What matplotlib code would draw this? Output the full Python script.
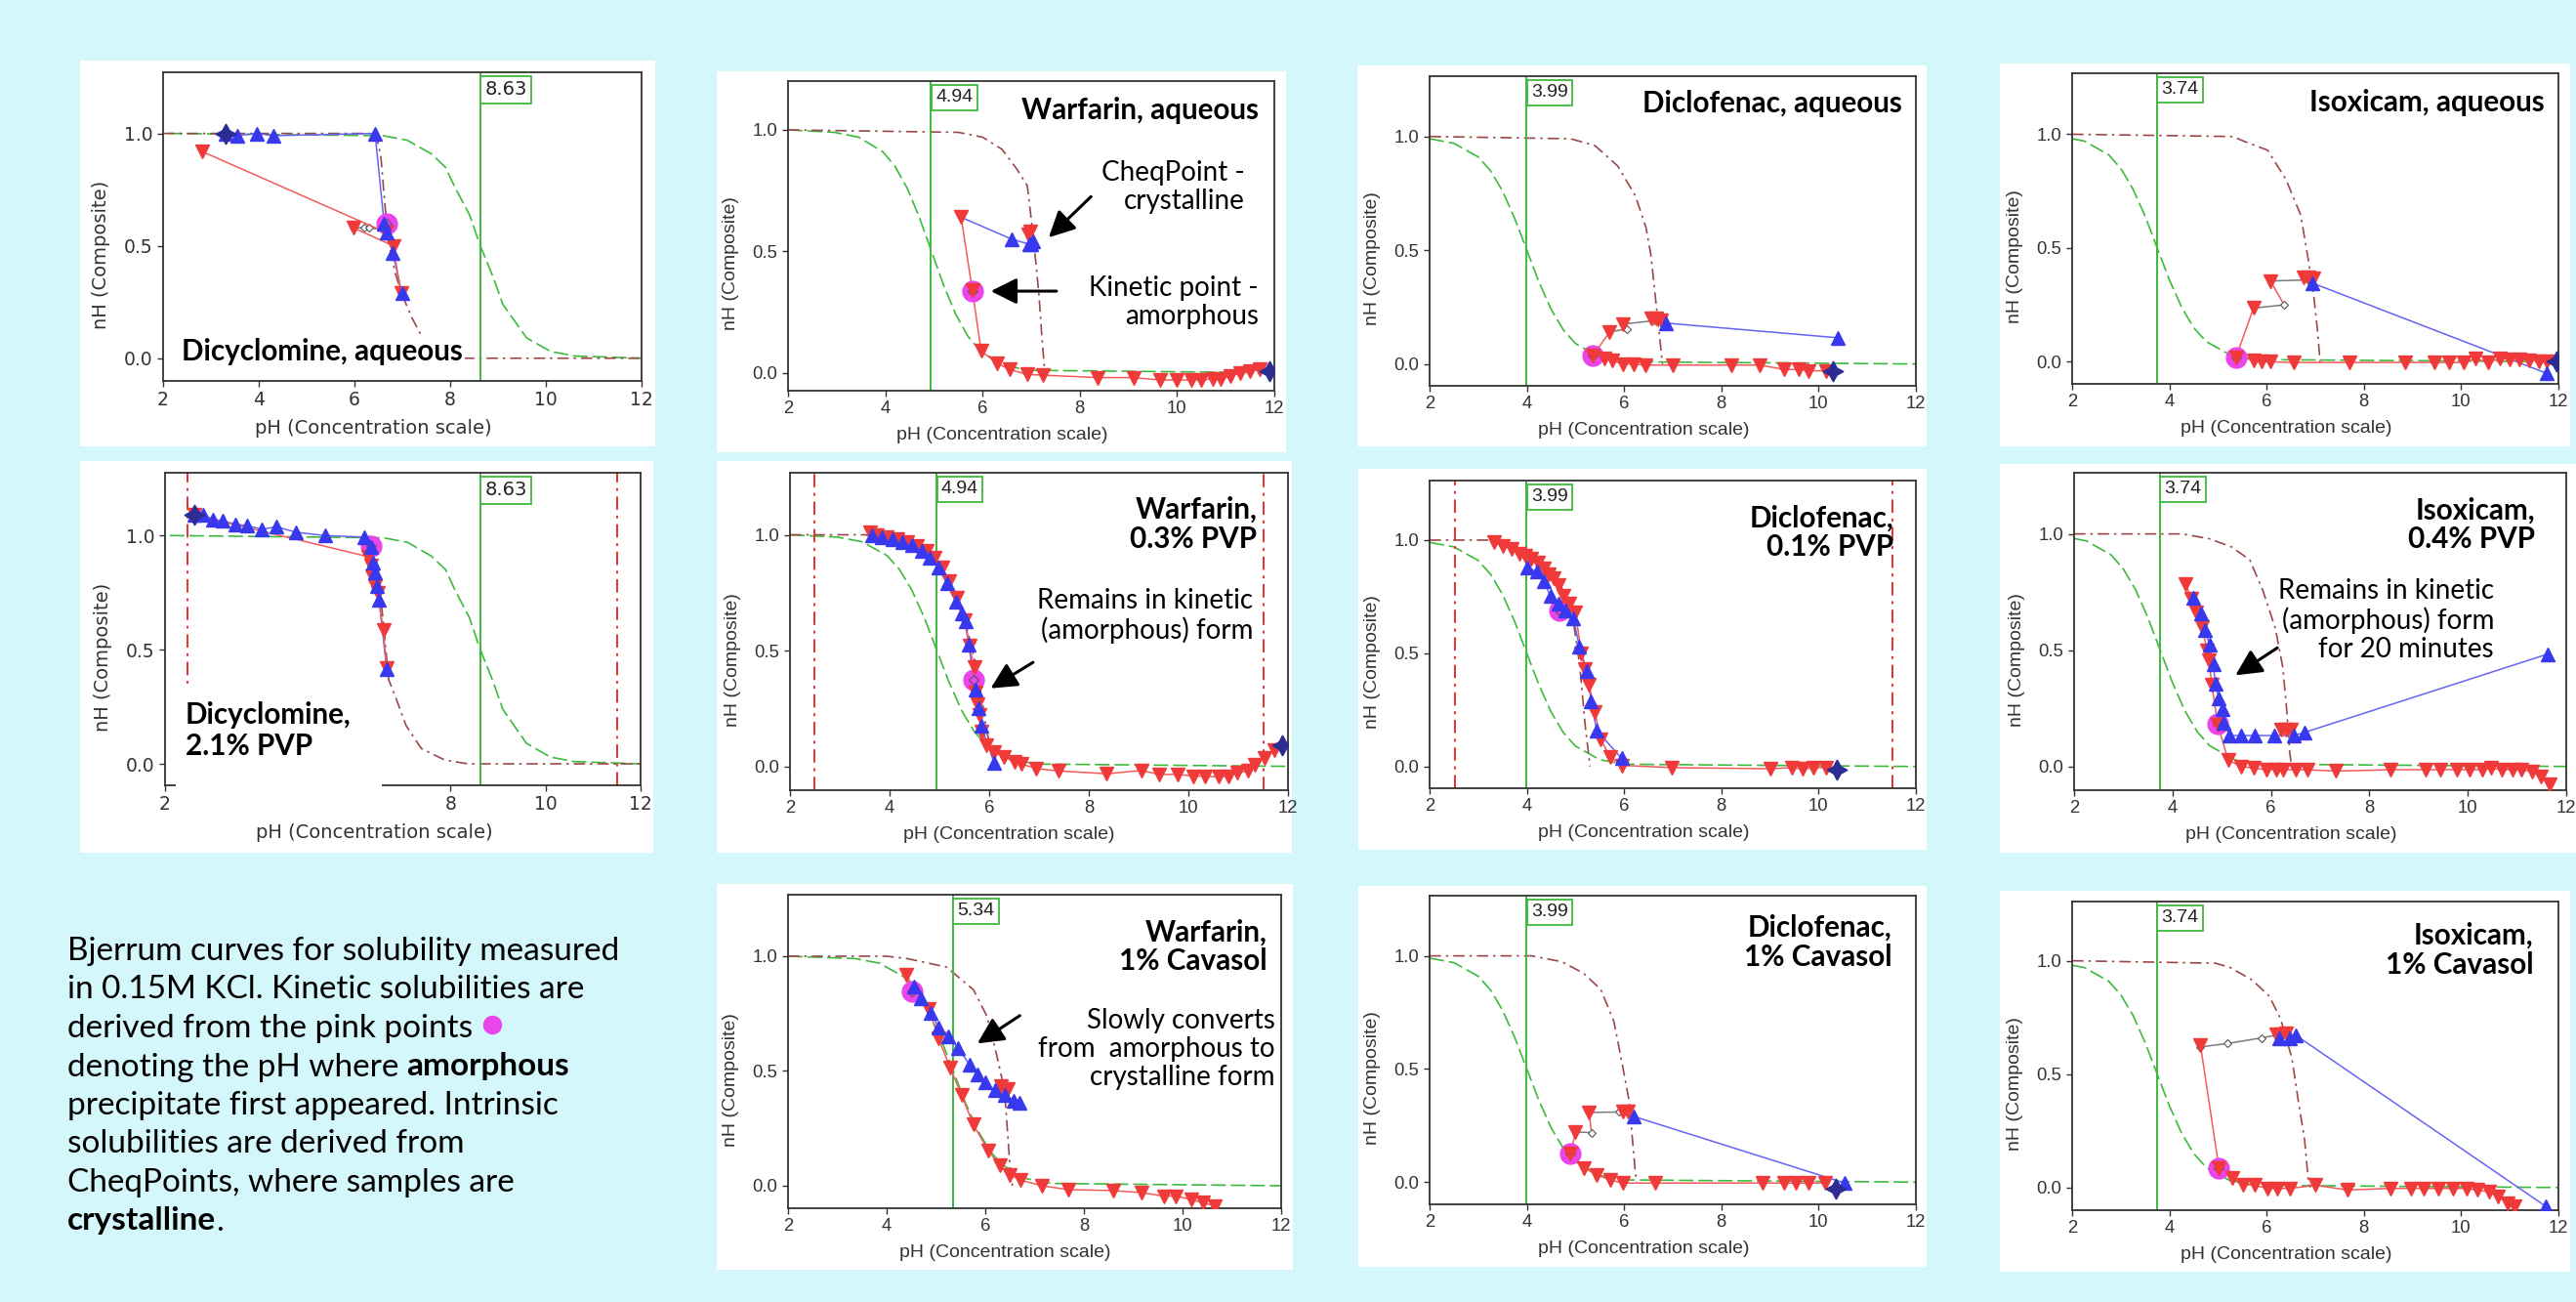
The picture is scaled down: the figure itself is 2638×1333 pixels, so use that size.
import matplotlib
matplotlib.use("Agg")
import matplotlib.pyplot as plt
from matplotlib.patches import Rectangle
from matplotlib.lines import Line2D
from matplotlib.ticker import FormatStrFormatter

# ---------------- values (pH, nH) ----------------
ph_ticks = [2, 4, 6, 8, 10, 12]
nh_ticks = [0.0, 0.5, 1.0]

# model Bjerrum curves (green dashed), one per drug
green_dicy_x = [2.1, 6.6, 7.1, 7.6, 7.9, 8.1, 8.4, 8.63, 8.9, 9.1, 9.4, 9.6, 10.1, 10.6, 12.0]
green_dicy_y = [1.0, 0.99, 0.97, 0.91, 0.85, 0.76, 0.64, 0.5, 0.36, 0.24, 0.15, 0.09, 0.03, 0.01, 0.0]
green_warf_x = [2.0, 2.95, 3.45, 3.95, 4.2, 4.45, 4.7, 4.95, 5.2, 5.45, 5.7, 5.95, 6.45, 6.95, 12.0]
green_warf_y = [1.0, 0.99, 0.97, 0.91, 0.85, 0.76, 0.64, 0.5, 0.36, 0.24, 0.15, 0.09, 0.03, 0.01, 0.0]
green_warfc_x = [2.0, 3.35, 3.85, 4.35, 4.6, 4.85, 5.1, 5.35, 5.6, 5.85, 6.1, 6.35, 6.85, 7.35, 12.0]
green_warfc_y = [1.0, 0.99, 0.97, 0.91, 0.85, 0.76, 0.64, 0.5, 0.36, 0.24, 0.15, 0.09, 0.03, 0.01, 0.0]
green_dicl_x = [2.0, 2.5, 3.0, 3.25, 3.5, 3.75, 4.0, 4.25, 4.5, 4.75, 5.0, 5.5, 6.0, 12.0]
green_dicl_y = [0.99, 0.97, 0.91, 0.85, 0.76, 0.64, 0.5, 0.36, 0.24, 0.15, 0.09, 0.03, 0.01, 0.0]
green_isox_x = [2.0, 2.25, 2.75, 3.0, 3.25, 3.5, 3.75, 4.0, 4.25, 4.5, 4.75, 5.25, 5.75, 12.0]
green_isox_y = [0.98, 0.97, 0.91, 0.85, 0.76, 0.64, 0.5, 0.36, 0.24, 0.15, 0.09, 0.03, 0.01, 0.0]

# P1 Dicyclomine, aqueous
p1_red_x = [2.81, 6.65, 5.98, 6.81, 6.97]
p1_red_y = [0.92, 0.56, 0.58, 0.5, 0.29]
p1_blue_x = [3.3, 3.55, 3.95, 4.3, 6.43, 6.62, 6.67, 6.8, 6.99]
p1_blue_y = [1.0, 0.99, 1.0, 0.99, 1.0, 0.6, 0.56, 0.47, 0.29]
p1_gray_x = [5.98, 6.2, 6.3, 6.65]
p1_gray_y = [0.58, 0.58, 0.58, 0.57]
p1_dk_x = [2.0, 6.45, 6.55, 6.65, 6.75, 6.85, 7.0, 7.2, 7.4, 7.6, 7.8, 8.0, 12.0]
p1_dk_y = [1.0, 1.0, 0.9, 0.65, 0.48, 0.38, 0.28, 0.18, 0.1, 0.05, 0.02, 0.0, 0.0]

# P2 Warfarin, aqueous
p2_red_x = [5.56, 5.79, 5.97, 6.29, 6.56, 6.92, 7.24, 8.37, 9.1, 9.66, 10.0, 10.3, 10.5, 10.73,
            10.9, 11.1, 11.3, 11.5, 11.7]
p2_red_y = [0.64, 0.34, 0.09, 0.04, 0.013, -0.007, -0.01, -0.02, -0.02, -0.03, -0.03, -0.03, -0.03,
            -0.025, -0.025, -0.015, 0.0, 0.005, 0.013]
p2_cheq_x = [6.93, 6.98]
p2_cheq_y = [0.57, 0.58]
p2_blue_x = [5.56, 6.6, 6.95, 7.0, 7.05]
p2_blue_y = [0.64, 0.55, 0.53, 0.53, 0.54]
p2_dk_x = [2.0, 5.5, 6.0, 6.4, 6.7, 6.92, 7.05, 7.16, 7.22, 7.28]
p2_dk_y = [1.0, 0.99, 0.97, 0.92, 0.84, 0.77, 0.55, 0.32, 0.15, 0.0]

# P3 Diclofenac, aqueous
p3_red_x = [5.36, 5.6, 5.75, 5.97, 6.19, 6.44, 7.0, 8.21, 8.79, 9.29, 9.6, 9.79, 10.16]
p3_red_y = [0.037, 0.026, 0.015, 0.0, 0.0, -0.005, -0.005, -0.005, -0.005, -0.024, -0.024, -0.03, -0.03]
p3_zig_x = [5.36, 5.7, 6.06, 5.97, 6.6]
p3_zig_y = [0.037, 0.14, 0.155, 0.175, 0.19]
p3_cheq_x = [6.55, 6.65, 6.75]
p3_cheq_y = [0.2, 0.2, 0.19]
p3_blue_x = [6.85, 10.4]
p3_blue_y = [0.18, 0.115]
p3_dk_x = [2.0, 4.9, 5.4, 5.87, 6.23, 6.45, 6.55, 6.67, 6.75, 6.79]
p3_dk_y = [1.0, 0.99, 0.96, 0.87, 0.74, 0.6, 0.48, 0.24, 0.08, 0.0]

# P4 Isoxicam, aqueous
p4_red_x = [5.37, 5.73, 5.9, 6.08, 6.55, 7.7, 8.85, 9.45, 9.75, 10.05, 10.3, 10.55, 10.8, 11.0,
            11.2, 11.4, 11.6, 11.75]
p4_red_y = [0.02, 0.008, 0.0, 0.0, -0.003, -0.003, -0.003, -0.003, -0.003, -0.003, 0.014, -0.003,
            0.014, 0.011, 0.011, 0.007, 0.003, 0.0]
p4_zig_x = [5.37, 5.73, 6.36, 6.08, 6.85]
p4_zig_y = [0.02, 0.236, 0.25, 0.355, 0.36]
p4_cheq_x = [6.75, 6.85, 6.95]
p4_cheq_y = [0.37, 0.37, 0.365]
p4_blue_x = [6.93, 11.75]
p4_blue_y = [0.347, -0.05]
p4_dk_x = [2.0, 5.3, 5.56, 6.02, 6.4, 6.7, 6.86, 6.97, 7.04, 7.1]
p4_dk_y = [1.0, 0.99, 0.967, 0.93, 0.8, 0.645, 0.444, 0.287, 0.15, 0.0]

# P5 Dicyclomine, 2.1% PVP
p5_red_x = [2.62, 6.28, 6.33, 6.36, 6.42, 6.47, 6.59, 6.66]
p5_red_y = [1.09, 0.907, 0.87, 0.82, 0.78, 0.75, 0.585, 0.42]
p5_blue_x = [2.62, 2.81, 3.01, 3.22, 3.48, 3.73, 4.03, 4.35, 4.76, 5.36, 6.18, 6.33, 6.38, 6.42,
             6.46, 6.5, 6.66]
p5_blue_y = [1.09, 1.09, 1.07, 1.064, 1.05, 1.043, 1.028, 1.038, 1.014, 1.0, 0.993, 0.95, 0.88, 0.84,
             0.78, 0.72, 0.416]
p5_dk_x = [6.3, 6.5, 6.6, 6.7, 6.87, 7.07, 7.39, 7.88, 8.37, 12.0]
p5_dk_y = [1.0, 0.8, 0.6, 0.37, 0.28, 0.167, 0.067, 0.017, 0.0, 0.0]

# P6 Warfarin, 0.3% PVP
p6_red_x = [3.6, 3.75, 3.95, 4.15, 4.35, 4.55, 4.75, 4.9, 5.05, 5.2, 5.35, 5.5, 5.6, 5.7, 5.73, 5.76,
            5.8, 5.85, 5.95, 6.1, 6.3, 6.5, 6.65, 6.95, 7.4, 8.36, 9.05, 9.42, 9.79, 10.1, 10.33,
            10.6, 10.8, 10.99, 11.19, 11.34, 11.53, 11.73]
p6_red_y = [1.01, 1.0, 0.99, 0.98, 0.97, 0.95, 0.93, 0.9, 0.86, 0.8, 0.73, 0.63, 0.52, 0.43, 0.32,
            0.27, 0.22, 0.15, 0.09, 0.06, 0.04, 0.02, 0.01, -0.01, -0.02, -0.032, -0.018, -0.035,
            -0.035, -0.042, -0.042, -0.046, -0.042, -0.028, -0.018, 0.007, 0.035, 0.07]
p6_blue_x = [3.65, 3.85, 4.05, 4.25, 4.45, 4.65, 4.8, 4.98, 5.15, 5.33, 5.45, 5.53, 5.59, 5.72,
             5.78, 5.84, 6.1]
p6_blue_y = [1.0, 0.99, 0.98, 0.97, 0.955, 0.93, 0.9, 0.857, 0.79, 0.71, 0.66, 0.625, 0.527, 0.33,
             0.25, 0.176, 0.014]
p6_dk_x = [2.0, 3.5, 4.2, 4.7, 5.0, 5.3, 5.5, 5.7, 5.85, 5.95, 6.1]
p6_dk_y = [1.0, 1.0, 0.98, 0.94, 0.88, 0.76, 0.64, 0.47, 0.3, 0.15, 0.03]

# P7 Diclofenac, 0.1% PVP
p7_red_x = [3.32, 3.5, 3.68, 3.85, 3.97, 4.09, 4.22, 4.35, 4.45, 4.56, 4.66, 4.76, 4.88, 5.0, 5.12,
            5.2, 5.28, 5.4, 5.52, 5.71, 5.95, 6.98, 9.0, 9.44, 9.67, 9.9, 10.16]
p7_red_y = [0.99, 0.975, 0.96, 0.94, 0.93, 0.92, 0.9, 0.875, 0.85, 0.83, 0.8, 0.753, 0.72, 0.68, 0.5,
            0.43, 0.36, 0.24, 0.12, 0.043, 0.005, -0.005, -0.01, -0.005, -0.01, -0.005, -0.005]
p7_blue_x = [4.0, 4.2, 4.35, 4.48, 4.65, 4.8, 4.96, 5.08, 5.24, 5.32, 5.44, 5.95]
p7_blue_y = [0.88, 0.86, 0.82, 0.753, 0.72, 0.69, 0.653, 0.53, 0.42, 0.287, 0.158, 0.036]
p7_dk_x = [2.0, 3.2, 3.8, 4.3, 4.7, 4.95, 5.08, 5.15, 5.2, 5.25, 5.3]
p7_dk_y = [1.0, 1.0, 0.97, 0.9, 0.8, 0.65, 0.46, 0.3, 0.18, 0.09, 0.0]

# P8 Isoxicam, 0.4% PVP
p8_red_x = [4.27, 4.38, 4.49, 4.6, 4.7, 4.74, 4.8, 4.92, 5.13, 5.39, 5.65, 5.91, 6.1, 6.24, 6.5,
            6.75, 7.32, 8.42, 9.14, 9.44, 9.78, 10.04, 10.3, 10.48, 10.7, 10.91, 11.08, 11.3,
            11.49, 11.67]
p8_red_y = [0.783, 0.72, 0.664, 0.6, 0.5, 0.455, 0.35, 0.18, 0.028, 0.0, -0.007, -0.014, -0.014,
            -0.014, -0.014, -0.014, -0.02, -0.014, -0.014, -0.014, -0.014, -0.014, -0.014, -0.007,
            -0.014, -0.014, -0.014, -0.021, -0.042, -0.077]
p8_cheq_x = [6.2, 6.3, 6.4]
p8_cheq_y = [0.16, 0.16, 0.16]
p8_blue_x = [4.42, 4.57, 4.66, 4.75, 4.83, 4.87, 4.94, 5.01, 5.04, 5.16, 5.39, 5.68, 6.06, 6.47,
             6.69, 11.62]
p8_blue_y = [0.727, 0.657, 0.587, 0.524, 0.44, 0.357, 0.294, 0.245, 0.189, 0.133, 0.133, 0.133,
             0.133, 0.133, 0.147, 0.483]
p8_dk_x = [2.0, 4.2, 4.75, 5.2, 5.57, 5.83, 6.09, 6.24, 6.32, 6.38, 6.42]
p8_dk_y = [1.0, 1.0, 0.979, 0.944, 0.888, 0.76, 0.594, 0.427, 0.245, 0.063, 0.0]

# P9 Warfarin, 1% Cavasol
p9_red_x = [4.39, 4.86, 5.05, 5.29, 5.52, 5.76, 6.06, 6.29, 6.5, 6.71, 7.15, 7.68, 8.59, 9.17,
            9.62, 9.87, 10.18, 10.42, 10.65]
p9_red_y = [0.918, 0.769, 0.642, 0.514, 0.394, 0.266, 0.153, 0.089, 0.047, 0.025, 0.0, -0.017,
            -0.021, -0.03, -0.045, -0.045, -0.06, -0.074, -0.088]
p9_cheq_x = [6.31, 6.46]
p9_cheq_y = [0.436, 0.422]
p9_blue_x = [4.55, 4.7, 4.9, 5.05, 5.25, 5.45, 5.68, 5.84, 6.0, 6.19, 6.39, 6.58, 6.7]
p9_blue_y = [0.868, 0.819, 0.755, 0.69, 0.65, 0.6, 0.528, 0.486, 0.45, 0.415, 0.394, 0.372, 0.361]
p9_dk_x = [2.0, 4.0, 4.43, 5.21, 5.45, 5.76, 6.03, 6.23, 6.39, 6.5, 6.55]
p9_dk_y = [1.0, 1.0, 0.989, 0.953, 0.91, 0.854, 0.74, 0.571, 0.415, 0.089, 0.0]

# P10 Diclofenac, 1% Cavasol
p10_red_x = [4.9, 5.17, 5.44, 5.71, 5.97, 6.64, 8.85, 9.29, 9.54, 9.79, 10.13]
p10_red_y = [0.125, 0.063, 0.032, 0.01, -0.004, -0.004, -0.004, -0.004, -0.004, -0.004, -0.004]
p10_zig_x = [4.9, 5.0, 5.33, 5.28, 5.9]
p10_zig_y = [0.125, 0.222, 0.219, 0.308, 0.31]
p10_cheq_x = [5.98, 6.08]
p10_cheq_y = [0.312, 0.31]
p10_blue_x = [6.19, 10.54]
p10_blue_y = [0.291, -0.004]
p10_dk_x = [2.0, 4.1, 4.72, 5.16, 5.52, 5.79, 5.95, 6.1, 6.23, 6.26]
p10_dk_y = [1.0, 1.0, 0.974, 0.924, 0.852, 0.71, 0.535, 0.363, 0.046, 0.0]

# P11 Isoxicam, 1% Cavasol
p11_red_x = [4.64, 5.02, 5.29, 5.52, 5.75, 6.02, 6.21, 6.48, 7.01, 7.66, 8.54, 8.96, 9.23, 9.54,
             9.84, 10.11, 10.34, 10.57, 10.76, 10.95, 11.1]
p11_red_y = [0.627, 0.085, 0.042, 0.013, 0.01, -0.004, -0.004, -0.004, 0.01, -0.011, -0.004, -0.004,
             -0.004, -0.004, -0.004, -0.004, -0.011, -0.019, -0.04, -0.069, -0.083]
p11_gray_x = [4.64, 5.2, 5.9, 6.3]
p11_gray_y = [0.62, 0.635, 0.66, 0.675]
p11_cheq_x = [6.2, 6.3, 6.4]
p11_cheq_y = [0.677, 0.677, 0.68]
p11_blue_x = [6.25, 6.48, 6.59, 11.74]
p11_blue_y = [0.656, 0.66, 0.673, -0.083]
p11_dk_x = [2.0, 4.95, 5.25, 5.71, 6.06, 6.29, 6.52, 6.65, 6.78, 6.86, 6.9]
p11_dk_y = [1.0, 0.989, 0.97, 0.914, 0.842, 0.742, 0.57, 0.383, 0.211, 0.024, 0.0]

# kinetic (pink) points and end-of-assay stars
kin_pts = {1: (6.67, 0.6), 2: (5.79, 0.336), 3: (5.36, 0.037), 4: (5.37, 0.02), 5: (6.33, 0.953),
           6: (5.68, 0.372), 7: (4.67, 0.689), 8: (4.92, 0.182), 9: (4.51, 0.847), 10: (4.9, 0.125),
           11: (5.02, 0.085)}
star_pts = {1: (3.3, 1.0), 2: (11.9, 0.007), 3: (10.3, -0.03), 4: (11.95, 0.0), 5: (2.62, 1.09),
            6: (11.88, 0.091), 7: (10.38, -0.014), 10: (10.35, -0.03)}

pka_dicy, pka_warf, pka_warfc, pka_dicl, pka_isox = 8.63, 4.94, 5.34, 3.99, 3.74

# ---------------- style ----------------
W, H = 2638, 1333
BG = "#d4f7fb"
RED = "#f03a3a"
RED_LN = "#f45a5a"
BLUE = "#3838ee"
BLUE_LN = "#6464f4"
PINK = "#ea44ea"
GREEN = "#3dba3d"
DKRED = "#9b4848"
VRED = "#e63232"
NAVY = "#2c2c92"
GRAY = "#7a7a7a"
TXT = "#333333"
DASH = (9, 3)
DASHDOT = (7, 3, 1.5, 3)
MS = 9.5

fig = plt.figure(figsize=(W / 100, H / 100), dpi=100, facecolor=BG)


def px_rect(x0, y0, x1, y1, z, color="white"):
    fig.add_artist(Rectangle((x0 / W, 1 - y1 / H), (x1 - x0) / W, (y1 - y0) / H,
                             transform=fig.transFigure, fc=color, ec="none", zorder=z))


panels = [
    dict(n=1, box=(82, 62, 671, 457), axes=(167, 74, 657, 390), ylim=(-0.101, 1.272),
         font="DejaVu Sans", tfs=13.5, pka=pka_dicy, green=(green_dicy_x, green_dicy_y),
         dk=(p1_dk_x, p1_dk_y),
         red=[(p1_red_x[:2], p1_red_y[:2]), (p1_red_x[2:], p1_red_y[2:])],
         blue=[(p1_blue_x, p1_blue_y)], gray=(p1_gray_x, p1_gray_y),
         texts=[(2.38, 0.03, "Dicyclomine, aqueous", "bold", "left", True)]),
    dict(n=2, box=(734, 73, 1317, 463), axes=(807, 83, 1305, 400), ylim=(-0.074, 1.201),
         font="Liberation Sans", tfs=13.3, pka=pka_warf, green=(green_warf_x, green_warf_y),
         dk=(p2_dk_x, p2_dk_y), red=[(p2_red_x, p2_red_y), (p2_cheq_x, p2_cheq_y)],
         blue=[(p2_blue_x, p2_blue_y)], blue_from=1,
         texts=[(11.68, 1.08, "Warfarin, aqueous", "bold", "right", False),
                (11.4, 0.765, "CheqPoint -\ncrystalline", "normal", "right", False),
                (11.68, 0.289, "Kinetic point -\namorphous", "normal", "right", False)],
         arrows=[((8.23, 0.725), (7.36, 0.557)), ((7.52, 0.336), (6.17, 0.336))]),
    dict(n=3, box=(1390, 67, 1973, 457), axes=(1464, 78, 1962, 395), ylim=(-0.096, 1.265),
         font="Liberation Sans", tfs=13.3, pka=pka_dicl, green=(green_dicl_x, green_dicl_y),
         dk=(p3_dk_x, p3_dk_y), red=[(p3_red_x, p3_red_y), (p3_cheq_x, p3_cheq_y)],
         zig=(p3_zig_x, p3_zig_y), blue=[(p3_blue_x, p3_blue_y)],
         texts=[(11.71, 1.143, "Diclofenac, aqueous", "bold", "right", False)]),
    dict(n=4, box=(2048, 65, 2632, 457), axes=(2122, 75, 2620, 393), ylim=(-0.097, 1.268),
         font="Liberation Sans", tfs=13.3, pka=pka_isox, green=(green_isox_x, green_isox_y),
         dk=(p4_dk_x, p4_dk_y), red=[(p4_red_x, p4_red_y), (p4_cheq_x, p4_cheq_y)],
         zig=(p4_zig_x, p4_zig_y), blue=[(p4_blue_x, p4_blue_y)],
         texts=[(11.72, 1.139, "Isoxicam, aqueous", "bold", "right", False)]),
    dict(n=5, box=(82, 472, 669, 873), axes=(169, 484, 656, 804), ylim=(-0.094, 1.275),
         font="DejaVu Sans", tfs=13.5, pka=pka_dicy, green=(green_dicy_x, green_dicy_y),
         dk=(p5_dk_x, p5_dk_y), red=[(p5_red_x, p5_red_y)], blue=[(p5_blue_x, p5_blue_y)],
         vlines=[2.47, 11.51], texts=[]),
    dict(n=6, box=(734, 472, 1323, 873), axes=(809, 484, 1319, 809), ylim=(-0.103, 1.268),
         font="Liberation Sans", tfs=13.3, pka=pka_warf, green=(green_warf_x, green_warf_y),
         dk=(p6_dk_x, p6_dk_y), red=[(p6_red_x, p6_red_y)], blue=[(p6_blue_x, p6_blue_y)],
         vlines=[2.5, 11.51],
         texts=[(11.38, 1.046, "Warfarin,\n0.3% PVP", "bold", "right", False),
                (11.3, 0.65, "Remains in kinetic\n(amorphous) form", "normal", "right", False)],
         arrows=[((6.88, 0.449), (6.03, 0.337))]),
    dict(n=7, box=(1391, 480, 1973, 870), axes=(1464, 492, 1962, 807), ylim=(-0.096, 1.263),
         font="Liberation Sans", tfs=13.3, pka=pka_dicl, green=(green_dicl_x, green_dicl_y),
         dk=(p7_dk_x, p7_dk_y), red=[(p7_red_x, p7_red_y)], blue=[(p7_blue_x, p7_blue_y)],
         vlines=[2.52, 11.51],
         texts=[(11.55, 1.033, "Diclofenac,\n0.1% PVP", "bold", "right", False)]),
    dict(n=8, box=(2048, 475, 2638, 873), axes=(2124, 484, 2628, 809), ylim=(-0.102, 1.263),
         font="Liberation Sans", tfs=13.3, pka=pka_isox, green=(green_isox_x, green_isox_y),
         dk=(p8_dk_x, p8_dk_y), red=[(p8_red_x, p8_red_y), (p8_cheq_x, p8_cheq_y)],
         blue=[(p8_blue_x, p8_blue_y)],
         texts=[(11.37, 1.038, "Isoxicam,\n0.4% PVP", "bold", "right", False),
                (10.53, 0.629, "Remains in kinetic\n(amorphous) form\nfor 20 minutes",
                 "normal", "right", False)],
         arrows=[((6.13, 0.51), (5.28, 0.392))]),
    dict(n=9, box=(734, 905, 1324, 1300), axes=(807, 916, 1312, 1237), ylim=(-0.098, 1.268),
         font="Liberation Sans", tfs=13.3, pka=pka_warfc, green=(green_warfc_x, green_warfc_y),
         dk=(p9_dk_x, p9_dk_y), red=[(p9_red_x, p9_red_y), (p9_cheq_x, p9_cheq_y)],
         blue=[(p9_blue_x, p9_blue_y)],
         texts=[(11.71, 1.042, "Warfarin,\n1% Cavasol", "bold", "right", False),
                (11.87, 0.597, "Slowly converts\nfrom  amorphous to\ncrystalline form",
                 "normal", "right", False)],
         arrows=[((6.7, 0.741), (5.84, 0.62))]),
    dict(n=10, box=(1391, 907, 1973, 1297), axes=(1464, 917, 1962, 1233), ylim=(-0.098, 1.266),
         font="Liberation Sans", tfs=13.3, pka=pka_dicl, green=(green_dicl_x, green_dicl_y),
         dk=(p10_dk_x, p10_dk_y), red=[(p10_red_x, p10_red_y), (p10_cheq_x, p10_cheq_y)],
         zig=(p10_zig_x, p10_zig_y), blue=[(p10_blue_x, p10_blue_y)],
         texts=[(11.51, 1.06, "Diclofenac,\n1% Cavasol", "bold", "right", False)]),
    dict(n=11, box=(2048, 912, 2632, 1302), axes=(2122, 923, 2620, 1239), ylim=(-0.1, 1.261),
         font="Liberation Sans", tfs=13.3, pka=pka_isox, green=(green_isox_x, green_isox_y),
         dk=(p11_dk_x, p11_dk_y), red=[(p11_red_x, p11_red_y), (p11_cheq_x, p11_cheq_y)],
         gray=(p11_gray_x, p11_gray_y), blue=[(p11_blue_x, p11_blue_y)],
         texts=[(11.49, 1.047, "Isoxicam,\n1% Cavasol", "bold", "right", False)]),
]

for p in panels:
    px_rect(*p["box"], z=-1)
    x0, y0, x1, y1 = p["axes"]
    ax = fig.add_axes([x0 / W, 1 - y1 / H, (x1 - x0) / W, (y1 - y0) / H])
    fam = p["font"]
    ax.set_xlim(2, 12)
    ax.set_ylim(*p["ylim"])
    ax.set_xticks(ph_ticks)
    ax.set_yticks(nh_ticks)
    ax.yaxis.set_major_formatter(FormatStrFormatter("%.1f"))
    ax.tick_params(direction="out", length=4, width=1, colors=TXT, labelsize=p["tfs"])
    for lab in ax.get_xticklabels() + ax.get_yticklabels():
        lab.set_family(fam)
    ax.set_xlabel("pH (Concentration scale)", family=fam, fontsize=14, color=TXT, labelpad=7)
    ax.set_ylabel("nH (Composite)", family=fam, fontsize=14, color=TXT, labelpad=10)
    # the screenshots centre their axis titles a little off the plot centre
    ax.xaxis.label.set_x(0.44)
    ax.yaxis.label.set_y(0.41)
    for s in ax.spines.values():
        s.set_color("#333333")
        s.set_linewidth(1.3)

    ax.plot(*p["green"], color=GREEN, lw=1.2, dashes=DASH, zorder=2)
    ax.plot(*p["dk"], color=DKRED, lw=1.2, dashes=DASHDOT, zorder=2)
    ax.axvline(p["pka"], color=GREEN, lw=1.4, zorder=2)
    for v in p.get("vlines", []):
        ax.axvline(v, color=VRED, lw=1.4, dashes=DASHDOT, zorder=2)
    ax.annotate(f"{p['pka']:.2f}", xy=(p["pka"], 1), xycoords=("data", "axes fraction"),
                xytext=(3.5, -6), textcoords="offset points", ha="left", va="top",
                family=fam, fontsize=14, color="#222222", zorder=6,
                bbox=dict(boxstyle="square,pad=0.22", fc="white", ec=GREEN, lw=1.3))

    n = p["n"]
    kx, ky = kin_pts[n]
    ax.plot([kx], [ky], "o", color=PINK, ms=15, zorder=3.4)
    ax.plot([kx], [ky], "D", ms=5, mfc="none", mec="#555555", mew=0.8, zorder=3.5)

    if "gray" in p:
        ax.plot(*p["gray"], color=GRAY, lw=1.1, marker="D", ms=4.5, mfc="white", mec="#555555",
                mew=0.8, zorder=3)
    if "zig" in p:
        zx, zy = p["zig"]
        for i in range(len(zx) - 1):
            ax.plot(zx[i:i + 2], zy[i:i + 2], color=RED_LN if i % 2 == 0 else GRAY, lw=1.1, zorder=3)
        ax.plot(zx[2::2], zy[2::2], "D", ms=4.5, mfc="white", mec="#555555", mew=0.8, zorder=3.6)
        ax.plot(zx[1::2], zy[1::2], "v", color=RED, ms=MS, zorder=4)
    for bx, by in p["blue"]:
        ax.plot(bx, by, color=BLUE_LN, lw=1.1, zorder=3)
    for rx, ry in p["red"]:
        ax.plot(rx, ry, color=RED_LN, lw=1.1, zorder=3.1)
        ax.plot(rx, ry, "v", color=RED, ms=MS, zorder=4)
    b0 = p.get("blue_from", 0)
    for bx, by in p["blue"]:
        ax.plot(bx[b0:], by[b0:], "^", color=BLUE, ms=MS, zorder=4.5)
    if n in star_pts:
        sx, sy = star_pts[n]
        ax.plot([sx], [sy], marker=(4, 1, 0), color=NAVY, ms=15, zorder=5)

    for tx, ty, s, wt, ha, bg in p["texts"]:
        kw = dict(bbox=dict(boxstyle="square,pad=0.1", fc="white", ec="none")) if bg else {}
        bold = wt == "bold"
        ax.text(tx, ty, s, family="Lato", fontsize=21.3 if bold else 20, fontweight=wt,
                ha=ha, va="center", multialignment=ha, linespacing=1.08 if bold else 1.15,
                color="black", zorder=8, **kw)
    for tail, head in p.get("arrows", []):
        ax.annotate("", xy=head, xytext=tail, zorder=8,
                    arrowprops=dict(arrowstyle="-|>,head_length=0.9,head_width=0.45",
                                    color="black", lw=2.2, mutation_scale=18,
                                    shrinkA=0, shrinkB=0))

# the title box of the Dicyclomine/PVP screenshot hides part of the axis
px_rect(180, 700, 391, 834, z=2)
fig.text(190 / W, 1 - 748 / H, "Dicyclomine,\n2.1% PVP", family="Lato", fontsize=21.3,
         fontweight="bold", ha="left", va="center", linespacing=1.15, zorder=3)

# caption text block at bottom-left
caption = [
    [("Bjerrum curves for solubility measured", "normal")],
    [("in 0.15M KCl. Kinetic solubilities are", "normal")],
    [("derived from the pink points", "normal")],
    [("denoting the pH where", "normal"), ("amorphous", "bold")],
    [("precipitate first appeared. Intrinsic", "normal")],
    [("solubilities are derived from", "normal")],
    [("CheqPoints, where samples are", "normal")],
    [("crystalline", "bold"), (".", "normal")],
]
CAP_FS = 24
renderer = fig.canvas.get_renderer()
space_px = CAP_FS * 100 / 72 * 0.23
y_base = 983
for i, parts in enumerate(caption):
    x = 69.0
    yb = y_base + i * 39.5
    for j, (s, wt) in enumerate(parts):
        t = fig.text(x / W, 1 - yb / H, s, family="Lato", fontsize=CAP_FS, fontweight=wt,
                     ha="left", va="baseline", color="black")
        w = t.get_window_extent(renderer).width
        x += w
        if j + 1 < len(parts) and parts[j + 1][0] != ".":
            x += space_px
    if i == 2:
        fig.add_artist(Line2D([(x + 20) / W], [1 - (yb - 13) / H], marker="o", ms=13,
                              color=PINK, transform=fig.transFigure))

fig.savefig("out.png", dpi=100, facecolor=BG)
